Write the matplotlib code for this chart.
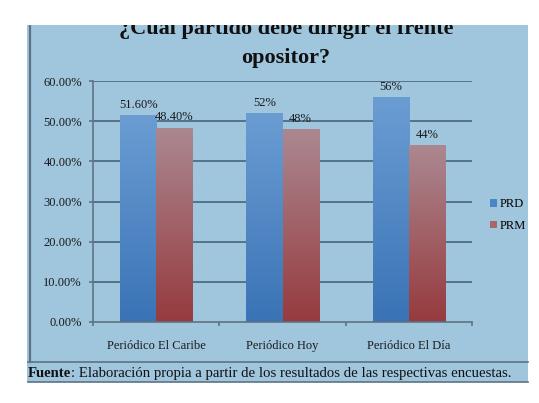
import matplotlib
matplotlib.use("Agg")
import matplotlib.pyplot as plt
import numpy as np
from matplotlib.patches import Rectangle, Patch
from matplotlib.colors import LinearSegmentedColormap
from matplotlib.lines import Line2D

categories = ["Periódico El Caribe", "Periódico Hoy", "Periódico El Día"]
prd = [0.516, 0.52, 0.56]
prm = [0.484, 0.48, 0.44]
prd_labels = ["51.60%", "52%", "56%"]
prm_labels = ["48.40%", "48%", "44%"]
series_names = ["PRD", "PRM"]
yticks = [0.0, 0.1, 0.2, 0.3, 0.4, 0.5, 0.6]
ytick_labels = ["0.00%", "10.00%", "20.00%", "30.00%", "40.00%", "50.00%", "60.00%"]

plt.rcParams['font.family'] = ['Liberation Serif', 'DejaVu Serif']

W, H = 539, 403
fig = plt.figure(figsize=(W / 100, H / 100), dpi=100)
fig.patch.set_facecolor("white")

def fx(px):
    return px / W

def fy(py):
    return (H - py) / H

BG = "#a0c6de"
EDGE = "#5e7383"

# chart background region
fig.add_artist(Rectangle((fx(27), fy(382)), fx(528) - fx(27), fy(25) - fy(382),
                         transform=fig.transFigure, facecolor=BG, edgecolor="none", zorder=0))
# borders
fig.add_artist(Line2D([fx(30), fx(30)], [fy(25), fy(362)], transform=fig.transFigure,
                      color=EDGE, lw=1.6, zorder=1))
fig.add_artist(Line2D([fx(28), fx(528)], [fy(362), fy(362)], transform=fig.transFigure,
                      color=EDGE, lw=1.2, zorder=1))
fig.add_artist(Line2D([fx(28), fx(528)], [fy(382), fy(382)], transform=fig.transFigure,
                      color=EDGE, lw=1.2, zorder=1))

ax = fig.add_axes([fx(93), fy(322), fx(472) - fx(93), fy(81) - fy(322)])
ax.set_facecolor("none")
ax.set_zorder(2)

x = np.arange(len(categories))
bw = 1 / 3.5
grid_c = "#4d6d84"
for t in yticks[1:]:
    ax.axhline(t, color=grid_c, lw=1.3, zorder=0)

b1 = ax.bar(x - bw / 2, prd, bw, color="none", zorder=2)
b2 = ax.bar(x + bw / 2, prm, bw, color="none", zorder=2)

cm_prd = LinearSegmentedColormap.from_list("prd", ["#3a73b6", "#6b9dd3"])
cm_prm = LinearSegmentedColormap.from_list("prm", ["#963b3e", "#ab8891"])
grad = np.linspace(0, 1, 256).reshape(-1, 1)

def fill(bars, cmap):
    for b in bars:
        x0, w, h = b.get_x(), b.get_width(), b.get_height()
        im = ax.imshow(grad, cmap=cmap, origin="lower", aspect="auto",
                       extent=[x0, x0 + w, 0, h], zorder=2, interpolation="bilinear")
        im.set_clip_path(b)

fill(b1, cm_prd)
fill(b2, cm_prm)

for bars, labs in ((b1, prd_labels), (b2, prm_labels)):
    for b, lab in zip(bars, labs):
        ax.annotate(lab, (b.get_x() + b.get_width() / 2, b.get_height()),
                    xytext=(0, 3), textcoords="offset points", ha="center", va="bottom",
                    fontsize=9, color="#1a1a1a", zorder=4)

ax.set_xlim(-0.5, len(categories) - 0.5)
ax.set_ylim(0, 0.6)
ax.set_yticks(yticks)
ax.set_yticklabels(ytick_labels)
ax.set_xticks(x)
ax.set_xticklabels(categories)
ax.set_xticks(np.arange(len(categories) + 1) - 0.5, minor=True)
ax.tick_params(axis="x", which="major", length=0, pad=13, labelsize=9, labelcolor="#1a1a1a")
ax.tick_params(axis="x", which="minor", length=3, color=EDGE, width=1.2, direction="out")
ax.tick_params(axis="y", length=3, color=EDGE, width=1.2, labelsize=9, labelcolor="#1a1a1a", pad=5)
for s in ("top", "right"):
    ax.spines[s].set_visible(False)
for s in ("left", "bottom"):
    ax.spines[s].set_color(EDGE)
    ax.spines[s].set_linewidth(1.2)

handles = [Patch(facecolor="#4a86c5", edgecolor="none"), Patch(facecolor="#a8676b", edgecolor="none")]
fig.legend(handles, series_names, loc="center left", bbox_to_anchor=(fx(490), fy(215)),
           frameon=False, fontsize=9, handlelength=0.55, handleheight=0.55,
           handletextpad=0.25, labelspacing=0.75, borderpad=0, borderaxespad=0)

# title
fig.text(fx(286), fy(34), "¿Cual partido debe dirigir el frente", ha="center", va="baseline",
         fontsize=16, fontweight="bold", color="#111111", zorder=5)
fig.text(fx(286), fy(63), "opositor?", ha="center", va="baseline",
         fontsize=16, fontweight="bold", color="#111111", zorder=5)
# white top cover (title is clipped in the source)
fig.add_artist(Rectangle((0, fy(25)), 1, 1 - fy(25), transform=fig.transFigure,
                         facecolor="white", edgecolor="none", zorder=10))

# footer
t1 = fig.text(fx(28), fy(377), "Fuente", ha="left", va="baseline", fontsize=10.65,
              fontweight="bold", color="#111111", zorder=5)
fig.canvas.draw()
bb = t1.get_window_extent()
fig.text(bb.x1 / W, fy(377), ": Elaboración propia a partir de los resultados de las respectivas encuestas.",
         ha="left", va="baseline", fontsize=10.65, color="#111111", zorder=5)

fig.savefig("out.png", dpi=100, facecolor="white")
